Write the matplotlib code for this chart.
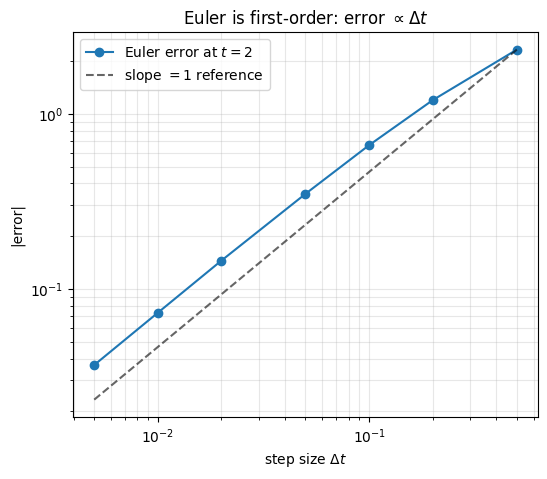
import matplotlib
matplotlib.use('Agg')
import matplotlib.pyplot as plt

# data
dt_vals = [0.5, 0.2, 0.1, 0.05, 0.02, 0.01, 0.005]
err_vals = [2.327, 1.197, 0.662, 0.349, 0.145, 0.073, 0.0367]
ref_vals = [2.327, 0.931, 0.4654, 0.2327, 0.0931, 0.04654, 0.02327]

fig, ax = plt.subplots(figsize=(5.47, 4.79), dpi=100)

ax.loglog(dt_vals, err_vals, 'o-', color='#1f77b4', label=r'Euler error at $t = 2$')
ax.loglog(dt_vals, ref_vals, '--', color='k', alpha=0.6, label=r'slope $= 1$ reference')

ax.set_xlabel(r'step size $\Delta t$')
ax.set_ylabel('|error|')
ax.set_title(r'Euler is first-order: error $\propto \Delta t$')
ax.grid(True, which='both', alpha=0.3)
ax.legend(loc='upper left')

plt.subplots_adjust(left=0.1335, right=0.9835, top=0.933, bottom=0.129)
plt.savefig('out.png', dpi=100)
